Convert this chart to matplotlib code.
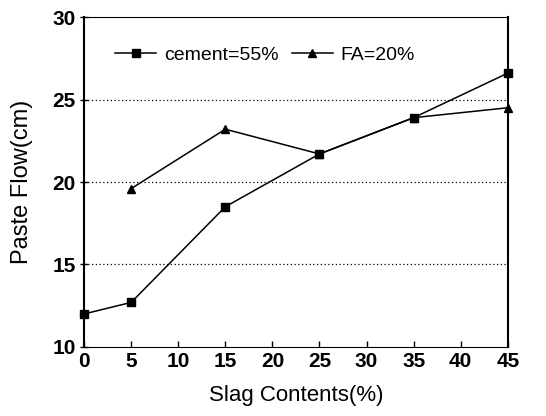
import matplotlib
matplotlib.use('Agg')
import matplotlib.pyplot as plt

# データ
slag = [0, 5, 15, 25, 35, 45]
cement_flow = [12.0, 12.7, 18.5, 21.7, 23.9, 26.6]
slag_fa = [5, 15, 25, 35, 45]
fa_flow = [19.6, 23.2, 21.7, 23.9, 24.5]
x_ticks = [0, 5, 10, 15, 20, 25, 30, 35, 40, 45]
y_ticks = [10, 15, 20, 25, 30]

plt.rcParams['font.family'] = ['Liberation Sans', 'DejaVu Sans']
plt.rcParams['font.weight'] = 'bold'

fig = plt.figure(figsize=(5.46, 4.16), dpi=100)
ax = fig.add_axes([0.154, 0.166, 0.776, 0.793])

ax.plot(slag, cement_flow, color='black', lw=1.1, marker='s', ms=5.2,
        label='cement=55%', clip_on=False, zorder=3)
ax.plot(slag_fa, fa_flow, color='black', lw=1.1, marker='^', ms=6.3,
        label='FA=20%', clip_on=False, zorder=3)

ax.set_xlim(0, 45)
ax.set_ylim(10, 30)
ax.set_xticks(x_ticks)
ax.set_yticks(y_ticks)
ax.tick_params(axis='x', labelsize=15, direction='in', length=4, width=1.0, pad=4)
ax.tick_params(axis='y', labelsize=15, direction='inout', length=6, width=1.0, pad=3)

# 補助線
for y in [15, 20, 25]:
    ax.axhline(y, color='black', lw=0.9, ls=(0, (1, 2)))

ax.spines['left'].set_linewidth(1.5)
ax.spines['right'].set_linewidth(1.5)
ax.spines['top'].set_linewidth(0.8)
ax.spines['bottom'].set_linewidth(0.8)
ax.spines['top'].set_linestyle((0, (4, 1)))
ax.spines['bottom'].set_linestyle((0, (4, 1)))

ax.set_xlabel('Slag Contents(%)', fontsize=16, fontweight='normal', labelpad=10)
ax.set_ylabel('Paste Flow(cm)', fontsize=17, fontweight='normal', labelpad=14)

ax.legend(loc='center left', bbox_to_anchor=(0.055, 0.885), ncol=2,
          frameon=False, prop={'size': 14, 'weight': 'normal'},
          handlelength=2.1, columnspacing=0.7, handletextpad=0.4,
          borderaxespad=0)

fig.savefig('out.png', dpi=100)
plt.close(fig)
